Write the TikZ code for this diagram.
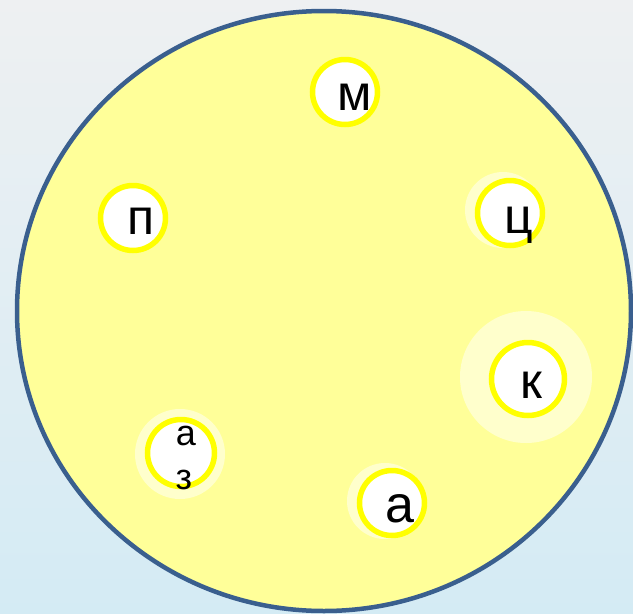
\documentclass[tikz,border=0pt]{standalone}
\usepackage{fontspec}
\setmainfont{Liberation Sans}
\usetikzlibrary{positioning,calc}
\definecolor{rim}{HTML}{3A5F8E}
\definecolor{disc}{HTML}{FFFF99}
\definecolor{ringline}{HTML}{FFFF00}
\definecolor{glow}{HTML}{FFFFCC}
\definecolor{skytop}{HTML}{EEF0F2}
\definecolor{skymid}{HTML}{F6F9FB}
\definecolor{skybot}{HTML}{D4EBF4}
\tikzset{letterring/.style={circle,draw=ringline,line width=5.5pt,fill=white,inner sep=0pt,minimum size=65pt},lettertext/.style={anchor=base,inner sep=0pt,font=\fontsize{50}{50}\selectfont},glowdisc/.style={circle,fill=glow,inner sep=0pt}}

\begin{document}
\begin{tikzpicture}[x=1pt,y=-1pt]
\shade[top color=skytop,middle color=skymid,bottom color=skybot] (0,0) rectangle (633,614);
\useasboundingbox (0,0) rectangle (633,614);
\draw[draw=rim,line width=4.5pt,fill=disc] (324,311) ellipse [x radius=307,y radius=300];
% glows behind some rings
\node[glowdisc,minimum size=132pt] (glowK) at (526,377) {};
\node[glowdisc,minimum size=76pt] (glowC) at (503,210) {};
\node[glowdisc,minimum size=76pt] (glowA) at (385,501) {};
\node[glowdisc,minimum size=90pt] (glowAZ) at (180,454) {};
% rings
\node[letterring] (ringM) at (345,92) {};
\node[letterring] (ringP) at (133,218) {};
\node[letterring] (ringC) at (510,213) {};
\node[letterring,minimum size=73pt] (ringK) at (528,379) {};
\node[letterring,minimum size=67pt] (ringAZ) at (181,453) {};
\node[letterring] (ringA) at (392,503) {};
% letters
\node[lettertext] (letM) at (355,110) {м};
\node[lettertext] (letP) at (141,234) {п};
\node[lettertext] (letC) at (519,233) {ц};
\node[lettertext] (letK) at (531,398) {к};
\node[lettertext,font=\fontsize{36}{36}\selectfont] (letA1) at (186,445) {а};
\node[lettertext,font=\fontsize{36}{36}\selectfont] (letZ) at (184,489) {з};
\node[lettertext,font=\fontsize{52}{52}\selectfont] (letA) at (400,522) {а};
\end{tikzpicture}
\end{document}
